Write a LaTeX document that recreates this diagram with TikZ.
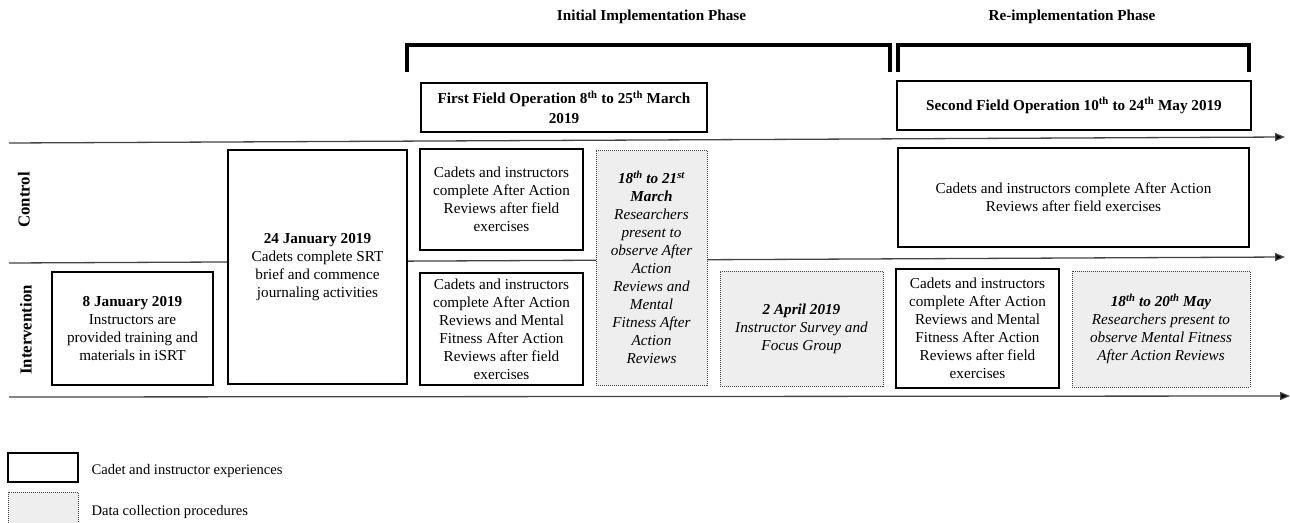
\documentclass[tikz,border=0pt]{standalone}
\usepackage{fontspec}
\setmainfont{Liberation Serif}
\usetikzlibrary{arrows.meta}
\definecolor{dcfill}{HTML}{EEEEEE}
\definecolor{axisgray}{HTML}{444444}
\definecolor{dotgray}{HTML}{444444}
\begin{document}
\begin{tikzpicture}[x=1pt,y=-1pt,
  every node/.style={font=\fontsize{15.2}{18}\selectfont, text=black},
  expbox/.style={draw=black, line width=1.4pt, fill=white, align=center, inner sep=1pt},
  dcbox/.style={draw=dotgray, line width=0.9pt, dash pattern=on 1pt off 1pt, fill=dcfill, align=center, inner sep=1pt},
  axisline/.style={draw=axisgray, line width=1.3pt, -{Triangle[length=10pt,width=8pt,fill=black]}},
  bracketline/.style={draw=black, line width=3.5pt, line join=miter},
  phasetitle/.style={font=\fontsize{15.2}{18}\selectfont\bfseries},
  lanelabel/.style={font=\fontsize{16.8}{18}\selectfont\bfseries, rotate=90},
  legendtext/.style={font=\fontsize{14.6}{17}\selectfont, anchor=west},
]
\useasboundingbox (0,0) rectangle (1290,522);

% timeline axes
\coordinate (t0) at (9,143);   \coordinate (t1) at (1285,137);
\coordinate (m0) at (9,263);   \coordinate (m1) at (1285,257);
\coordinate (b0) at (9,397);   \coordinate (b1) at (1290,396);
\draw[axisline] (t0) -- (t1);
\draw[axisline] (m0) -- (m1);
\draw[axisline] (b0) -- (b1);

% phase titles and brackets
\node[phasetitle] (p1) at (651.5,17) {Initial Implementation Phase};
\node[phasetitle] (p2) at (1072,17) {Re-implementation Phase};
\coordinate (k1a) at (407,72); \coordinate (k1b) at (407,45);
\coordinate (k1c) at (890,45); \coordinate (k1d) at (890,72);
\coordinate (k2a) at (898,72); \coordinate (k2b) at (898,45);
\coordinate (k2c) at (1249,45); \coordinate (k2d) at (1249,72);
\draw[bracketline] (k1a) -- (k1b) -- (k1c) -- (k1d);
\draw[bracketline] (k2a) -- (k2b) -- (k2c) -- (k2d);

% field operation boxes
\node[expbox, minimum width=286pt, minimum height=49pt, font=\fontsize{15.2}{20}\selectfont\bfseries] (ffo) at (564,107.5)
  {First Field Operation 8\textsuperscript{th} to 25\textsuperscript{th} March\\2019};
\node[expbox, minimum width=354pt, minimum height=49pt, font=\fontsize{15.2}{18}\selectfont\bfseries] (sfo) at (1074,105.5)
  {Second Field Operation 10\textsuperscript{th} to 24\textsuperscript{th} May 2019};

% lane labels
\node[lanelabel] (lc) at (24,200) {Control};
\node[lanelabel] (li) at (26,330) {Intervention};

% boxes
\node[expbox, minimum width=161pt, minimum height=113pt] (b8) at (132.5,328.5)
  {\textbf{8 January 2019}\\Instructors are\\provided training and\\materials in iSRT};
\node[expbox, minimum width=179pt, minimum height=234pt] (b24) at (317.5,267)
  {\textbf{24 January 2019}\\Cadets complete SRT\\brief and commence\\journaling activities};
\node[expbox, minimum width=163pt, minimum height=101pt] (c1) at (501.5,199.5)
  {Cadets and instructors\\complete After Action\\Reviews after field\\exercises};
\node[expbox, minimum width=163pt, minimum height=112pt] (i1) at (501.5,329)
  {Cadets and instructors\\complete After Action\\Reviews and Mental\\Fitness After Action\\Reviews after field\\exercises};
\node[dcbox, minimum width=111pt, minimum height=235pt] (d1) at (651.5,267.5)
  {\textbf{\textit{18\textsuperscript{th} to 21\textsuperscript{st}}}\\\textbf{\textit{March}}\\\textit{Researchers}\\\textit{present to}\\\textit{observe After}\\\textit{Action}\\\textit{Reviews and}\\\textit{Mental}\\\textit{Fitness After}\\\textit{Action}\\\textit{Reviews}};
\node[dcbox, minimum width=163pt, minimum height=115pt] (d2) at (801.5,328.5)
  {\textbf{\textit{2 April 2019}}\\\textit{Instructor Survey and}\\\textit{Focus Group}};
\node[expbox, minimum width=351pt, minimum height=99pt] (c2) at (1073.5,197.5)
  {Cadets and instructors complete After Action\\Reviews after field exercises};
\node[expbox, minimum width=163pt, minimum height=119pt] (i2) at (977.5,328.5)
  {Cadets and instructors\\complete After Action\\Reviews and Mental\\Fitness After Action\\Reviews after field\\exercises};
\node[dcbox, minimum width=178pt, minimum height=116pt] (d3) at (1161,329)
  {\textbf{\textit{18\textsuperscript{th} to 20\textsuperscript{th} May}}\\\textit{Researchers present to}\\\textit{observe Mental Fitness}\\\textit{After Action Reviews}};

% legend
\node[expbox, minimum width=70pt, minimum height=29pt] (lg1) at (43,467.5) {};
\node[dcbox, minimum width=70pt, minimum height=40pt] (lg2) at (43,512) {};
\node[legendtext] (lt1) at (88,471) {Cadet and instructor experiences};
\node[legendtext] (lt2) at (88,512) {Data collection procedures};
\end{tikzpicture}
\end{document}
